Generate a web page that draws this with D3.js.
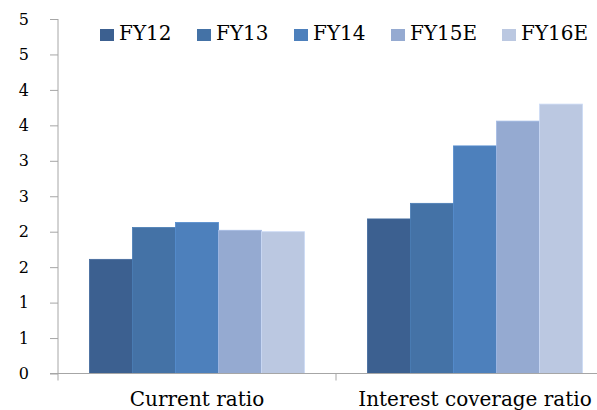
<!DOCTYPE html>
<html>
<head>
<meta charset="utf-8">
<script src="https://cdn.jsdelivr.net/npm/d3@7"></script>
<style>
  html, body { margin: 0; padding: 0; background: #fff; }
  svg { display: block; }
  text { font-family: "DejaVu Serif", serif; fill: #000; }
</style>
</head>
<body>
<svg id="chart" width="597" height="410"></svg>
<script>
// Financial ratios by fiscal year
const categories = ["Current ratio", "Interest coverage ratio"];
const seriesNames = ["FY12", "FY13", "FY14", "FY15E", "FY16E"];
const currentRatio = [1.61, 2.06, 2.13, 2.02, 2.0];
const interestCoverage = [2.18, 2.40, 3.21, 3.56, 3.80];
const yTicks = [0, 0.5, 1, 1.5, 2, 2.5, 3, 3.5, 4, 4.5, 5];
const colors = ["#3C6090", "#4472A6", "#4D80BC", "#95AAD1", "#BBC8E1"];

const values = [currentRatio, interestCoverage];

const svg = d3.select("#chart");
const plotLeft = 58, plotRight = 614, plotTop = 19, plotBottom = 373.5;

const y = d3.scaleLinear().domain([0, 5]).range([plotBottom, plotTop]);
const x0 = d3.scaleBand().domain(categories).range([plotLeft, plotRight]).padding(0);
const x1 = d3.scaleBand().domain(seriesNames).range([0, x0.bandwidth()]).paddingInner(0).paddingOuter(0.73);
const color = d3.scaleOrdinal().domain(seriesNames).range(colors);

// bars
const groups = svg.append("g").selectAll("g")
  .data(categories.map((c, i) => ({ cat: c, vals: values[i] })))
  .join("g")
  .attr("transform", d => `translate(${x0(d.cat)},0)`);

groups.selectAll("rect")
  .data(d => d.vals.map((v, j) => ({ name: seriesNames[j], v })))
  .join("rect")
  .attr("x", d => x1(d.name))
  .attr("y", d => y(d.v))
  .attr("width", x1.bandwidth())
  .attr("height", d => plotBottom - y(d.v))
  .attr("fill", d => color(d.name))
  .attr("stroke", d => d3.color(color(d.name)).brighter(0.25))
  .attr("stroke-width", 0.8);

// y axis
const yAxis = d3.axisLeft(y)
  .tickValues(yTicks)
  .tickFormat(d => String(Math.round(d)))
  .tickSize(8)
  .tickPadding(21);
const ya = svg.append("g").attr("transform", `translate(${plotLeft},0)`).call(yAxis);
ya.select(".domain").attr("stroke", "#A6A6A6").attr("d", `M0,${plotTop}V${plotBottom + 7}`);
ya.selectAll(".tick line").attr("stroke", "#A6A6A6");
ya.selectAll(".tick text").style("font-size", "16px").style("font-family", "'DejaVu Serif', serif").attr("fill", "#000");

// x axis
const xa = svg.append("g");
xa.append("line")
  .attr("x1", plotLeft - 8).attr("x2", plotRight)
  .attr("y1", plotBottom).attr("y2", plotBottom)
  .attr("stroke", "#A6A6A6");
xa.selectAll("line.tk")
  .data(categories.slice(1).map(c => x0(c)))
  .join("line")
  .attr("class", "tk")
  .attr("x1", d => d).attr("x2", d => d)
  .attr("y1", plotBottom).attr("y2", plotBottom + 7)
  .attr("stroke", "#A6A6A6");
xa.selectAll("text")
  .data(categories)
  .join("text")
  .attr("x", d => x0(d) + x0.bandwidth() / 2)
  .attr("y", 406)
  .attr("text-anchor", "middle")
  .style("font-size", "20px")
  .text(d => d);

// legend
const legendX = [100, 197, 294, 391, 502];
const legend = svg.append("g").selectAll("g")
  .data(seriesNames)
  .join("g")
  .attr("transform", (d, i) => `translate(${legendX[i]},0)`);
legend.append("rect")
  .attr("x", 0).attr("y", 29)
  .attr("width", 14).attr("height", 12)
  .attr("fill", d => color(d));
legend.append("text")
  .attr("x", 19).attr("y", 40)
  .style("font-size", "20px")
  .text(d => d);
</script>
</body>
</html>
